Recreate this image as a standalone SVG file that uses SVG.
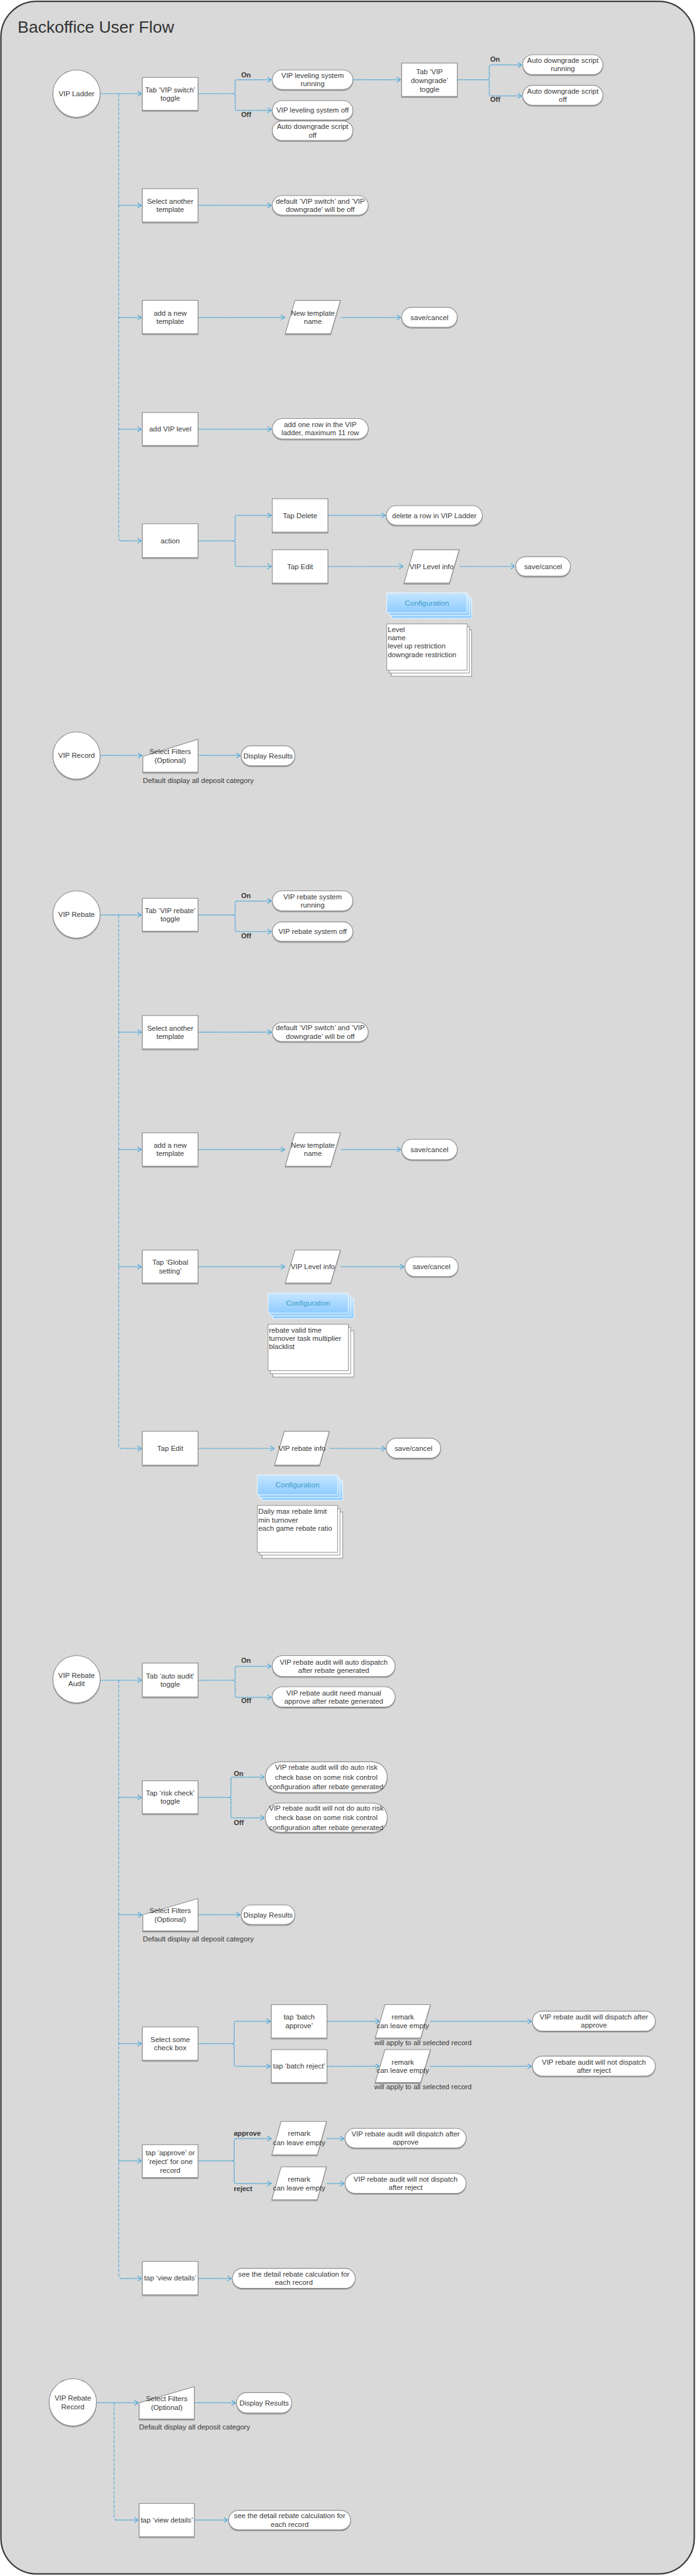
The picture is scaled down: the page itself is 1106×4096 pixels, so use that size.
<svg xmlns="http://www.w3.org/2000/svg" width="1106" height="4096" viewBox="0 0 1106 4096">
<style>
.bg{fill:#d9d9d9;stroke:#3a3a3a;stroke-width:3}
.box{fill:#fff;stroke:#8c8c8c;stroke-width:1.5;filter:url(#sh)}
.cfg{fill:url(#bl);stroke:#eaf6ff;stroke-width:1.5}
.doc{fill:#fff;stroke:#8c8c8c;stroke-width:1.3}
text{font-family:"Liberation Sans",Arial,Helvetica,sans-serif;font-size:15.5px;fill:#383838}
.c{text-anchor:middle}
.b{font-weight:bold;font-size:15px}
.ct{fill:#3a9cc8;font-size:16px;text-anchor:middle}
.ttl{font-size:36px;fill:#333}
.cn{fill:none;stroke:#3ea3d8;stroke-width:2;stroke-dasharray:3 1.5;marker-end:url(#ah)}
.tr{fill:none;stroke:#3ea3d8;stroke-width:1.3;stroke-dasharray:7 3}
</style>
<defs>
<filter id="sh" x="-10%" y="-10%" width="120%" height="130%"><feDropShadow dx="0" dy="2" stdDeviation="1" flood-color="#000" flood-opacity="0.35"/></filter>
<linearGradient id="bl" x1="0" y1="0" x2="0" y2="1"><stop offset="0" stop-color="#c6e6ff"/><stop offset="1" stop-color="#8ecbff"/></linearGradient>
<marker id="ah" viewBox="0 0 10 14" markerWidth="10" markerHeight="14" refX="9.5" refY="7" orient="auto" markerUnits="userSpaceOnUse"><path d="M1,1.5 L9.5,7 L1,12.5" fill="none" stroke="#3ea3d8" stroke-width="1.5"/></marker>
</defs>
<g transform="scale(0.737)">
<rect class="bg" x="2" y="3" width="1495" height="5550" rx="77"/>
<text class="ttl" x="38" y="70">Backoffice User Flow</text>

<g id="connectors">
<!-- VIP Ladder -->
<path class="cn" d="M215,202 H305"/>
<path class="tr" d="M256,202 V1162 Q256,1167 261,1167"/>
<path class="cn" d="M256,443 H305"/>
<path class="cn" d="M256,685 H305"/>
<path class="cn" d="M256,926 H305"/>
<path class="cn" d="M260,1167 H305"/>
<path class="cn" d="M427,202 H503 Q507,202 507,198 V176 Q507,172 511,172 H585"/>
<path class="cn" d="M503,202 Q507,202 507,206 V234 Q507,238 511,238 H585"/>
<path class="cn" d="M761,172 H864"/>
<path class="cn" d="M986,172 H1051 Q1055,172 1055,168 V144 Q1055,140 1059,140 H1125"/>
<path class="cn" d="M1051,172 Q1055,172 1055,176 V203 Q1055,207 1059,207 H1125"/>
<path class="cn" d="M427,443 H585"/>
<path class="cn" d="M427,685 H614"/>
<path class="cn" d="M736,685 H864"/>
<path class="cn" d="M427,926 H585"/>
<path class="cn" d="M427,1167 H503 Q507,1167 507,1163 V1116 Q507,1112 511,1112 H585"/>
<path class="cn" d="M503,1167 Q507,1167 507,1171 V1218 Q507,1222 511,1222 H585"/>
<path class="cn" d="M707,1112 H831"/>
<path class="cn" d="M707,1222 H869"/>
<path class="cn" d="M992,1222 H1110"/>
<!-- VIP Record -->
<path class="cn" d="M215,1630 H306"/>
<path class="cn" d="M427,1630 H518"/>
<!-- VIP Rebate -->
<path class="cn" d="M215,1974 H305"/>
<path class="tr" d="M256,1974 V3120 Q256,3125 261,3125"/>
<path class="cn" d="M256,2227 H305"/>
<path class="cn" d="M256,2480 H305"/>
<path class="cn" d="M256,2733 H305"/>
<path class="cn" d="M260,3125 H305"/>
<path class="cn" d="M427,1974 H503 Q507,1974 507,1970 V1948 Q507,1944 511,1944 H585"/>
<path class="cn" d="M503,1974 Q507,1974 507,1978 V2006 Q507,2010 511,2010 H585"/>
<path class="cn" d="M427,2227 H585"/>
<path class="cn" d="M427,2480 H614"/>
<path class="cn" d="M736,2480 H864"/>
<path class="cn" d="M427,2733 H614"/>
<path class="cn" d="M736,2733 H871"/>
<path class="cn" d="M427,3125 H591"/>
<path class="cn" d="M711,3125 H831"/>
<!-- VIP Rebate Audit -->
<path class="cn" d="M215,3625 H305"/>
<path class="tr" d="M256,3625 V4911 Q256,4916 261,4916"/>
<path class="cn" d="M256,3878 H305"/>
<path class="cn" d="M256,4131 H306"/>
<path class="cn" d="M256,4409 H305"/>
<path class="cn" d="M256,4662 H305"/>
<path class="cn" d="M260,4916 H305"/>
<path class="cn" d="M427,3625 H503 Q507,3625 507,3621 V3599 Q507,3595 511,3595 H585"/>
<path class="cn" d="M503,3625 Q507,3625 507,3629 V3658 Q507,3662 511,3662 H585"/>
<path class="cn" d="M427,3878 H494 Q498,3878 498,3874 V3838 Q498,3834 502,3834 H570"/>
<path class="cn" d="M494,3878 Q498,3878 498,3882 V3918 Q498,3922 502,3922 H570"/>
<path class="cn" d="M427,4131 H518"/>
<path class="cn" d="M427,4409 H501 Q505,4409 505,4405 V4365 Q505,4361 509,4361 H583"/>
<path class="cn" d="M501,4409 Q505,4409 505,4413 V4454 Q505,4458 509,4458 H583"/>
<path class="cn" d="M705,4361 H818"/>
<path class="cn" d="M928,4361 H1146"/>
<path class="cn" d="M705,4458 H818"/>
<path class="cn" d="M928,4458 H1146"/>
<path class="cn" d="M427,4662 H501 Q505,4662 505,4658 V4618 Q505,4614 509,4614 H585"/>
<path class="cn" d="M501,4662 Q505,4662 505,4666 V4707 Q505,4711 509,4711 H585"/>
<path class="cn" d="M705,4614 H742"/>
<path class="cn" d="M705,4711 H742"/>
<path class="cn" d="M427,4916 H499"/>
<!-- VIP Rebate Record -->
<path class="cn" d="M208,5184 H298"/>
<path class="tr" d="M246,5184 V5432 Q246,5437 251,5437"/>
<path class="cn" d="M250,5437 H298"/>
<path class="cn" d="M419,5184 H508"/>
<path class="cn" d="M419,5437 H491"/>
</g>

<!-- labels -->
<g id="labels">
<text class="b" x="520" y="167">On</text>
<text class="b" x="520" y="253">Off</text>
<text class="b" x="1057" y="133">On</text>
<text class="b" x="1057" y="220">Off</text>
<text class="b" x="520" y="1938">On</text>
<text class="b" x="520" y="2025">Off</text>
<text class="b" x="520" y="3588">On</text>
<text class="b" x="520" y="3675">Off</text>
<text class="b" x="504" y="3832">On</text>
<text class="b" x="504" y="3938">Off</text>
<text class="b" x="504" y="4608">approve</text>
<text class="b" x="504" y="4727">reject</text>
<text x="308" y="1689">Default display all deposit category</text>
<text x="308" y="4189">Default display all deposit category</text>
<text x="300" y="5242">Default display all deposit category</text>
<text x="807" y="4412">will apply to all selected record</text>
<text x="807" y="4508">will apply to all selected record</text>
</g>

<!-- ===== VIP Ladder ===== -->
<g id="vip-ladder"><ellipse class="box" cx="165" cy="202" rx="51" ry="51"/><text class="c" x="165" y="207.5">VIP Ladder</text></g>
<g id="tab-vip-switch"><rect class="box" x="307" y="167" width="120" height="71"/><text class="c" x="367" y="199">Tab ‘VIP switch’</text><text class="c" x="367" y="217">toggle</text></g>
<g id="leveling-running"><rect class="box" x="587" y="151" width="174" height="42" rx="21"/><text class="c" x="674" y="168.5">VIP leveling system</text><text class="c" x="674" y="186.5">running</text></g>
<g id="leveling-off"><rect class="box" x="587" y="217" width="174" height="42" rx="21"/><text class="c" x="674" y="243.5">VIP leveling system off</text></g>
<g id="auto-downgrade-off-1"><rect class="box" x="587" y="261" width="174" height="42" rx="21"/><text class="c" x="674" y="278.5">Auto downgrade script</text><text class="c" x="674" y="296.5">off</text></g>
<g id="tab-vip-downgrade"><rect class="box" x="866" y="136" width="120" height="72"/><text class="c" x="926" y="160.5">Tab ‘VIP</text><text class="c" x="926" y="178.5">downgrade’</text><text class="c" x="926" y="197.5">toggle</text></g>
<g id="auto-downgrade-running"><rect class="box" x="1127" y="118" width="173" height="43" rx="21.5"/><text class="c" x="1213.5" y="136">Auto downgrade script</text><text class="c" x="1213.5" y="154">running</text></g>
<g id="auto-downgrade-off-2"><rect class="box" x="1127" y="184" width="173" height="43" rx="21.5"/><text class="c" x="1213.5" y="202">Auto downgrade script</text><text class="c" x="1213.5" y="220">off</text></g>
<g id="select-template-1"><rect class="box" x="307" y="407" width="120" height="72"/><text class="c" x="367" y="439.5">Select another</text><text class="c" x="367" y="457.5">template</text></g>
<g id="default-off-1"><rect class="box" x="587" y="422" width="207" height="42" rx="21"/><text class="c" x="690.5" y="439.5">default ‘VIP switch’ and ‘VIP</text><text class="c" x="690.5" y="457.5">downgrade’ will be off</text></g>
<g id="add-template-1"><rect class="box" x="307" y="648" width="120" height="72"/><text class="c" x="367" y="680.5">add a new</text><text class="c" x="367" y="698.5">template</text></g>
<g id="template-name-1"><polygon class="box" points="636,648 734,648 713,720 615,720"/><text class="c" x="674.5" y="680.5">New template</text><text class="c" x="674.5" y="698.5">name</text></g>
<g id="save-1"><rect class="box" x="866" y="663" width="120" height="43" rx="21.5"/><text class="c" x="926" y="690">save/cancel</text></g>
<g id="add-vip-level"><rect class="box" x="307" y="890" width="120" height="71"/><text class="c" x="367" y="931">add VIP level</text></g>
<g id="add-row"><rect class="box" x="587" y="903" width="207" height="44" rx="22"/><text class="c" x="690.5" y="921.5">add one row in the VIP</text><text class="c" x="690.5" y="939.5">ladder, maximum 11 row</text></g>
<g id="action"><rect class="box" x="307" y="1130" width="120" height="73"/><text class="c" x="367" y="1172">action</text></g>
<g id="tap-delete"><rect class="box" x="587" y="1076" width="120" height="72"/><text class="c" x="647" y="1117.5">Tap Delete</text></g>
<g id="delete-row"><rect class="box" x="833" y="1091" width="207" height="42" rx="21"/><text class="c" x="936.5" y="1117.5">delete a row in VIP Ladder</text></g>
<g id="tap-edit-1"><rect class="box" x="587" y="1186" width="120" height="72"/><text class="c" x="647" y="1227.5">Tap Edit</text></g>
<g id="vip-level-info-1"><polygon class="box" points="892,1186 990,1186 969,1258 871,1258"/><text class="c" x="930.5" y="1227.5">VIP Level info</text></g>
<g id="save-2"><rect class="box" x="1112" y="1201" width="118" height="42" rx="21"/><text class="c" x="1171" y="1227.5">save/cancel</text></g>
<g id="config-1"><rect class="cfg" x="844" y="1291" width="173" height="43"/><rect class="cfg" x="839" y="1285" width="173" height="43"/><rect class="cfg" x="834" y="1279" width="173" height="43"/><text class="ct" x="920.5" y="1306">Configuration</text></g>
<g id="config-doc-1"><rect class="doc" x="844" y="1359" width="173" height="100"/><rect class="doc" x="839" y="1352" width="173" height="100"/><rect class="doc" x="834" y="1346" width="173" height="100"/><text x="836" y="1363.5">Level</text><text x="836" y="1381.5">name</text><text x="836" y="1399.5">level up restriction</text><text x="836" y="1417.5">downgrade restriction</text></g>

<!-- ===== VIP Record ===== -->
<g id="vip-record"><ellipse class="box" cx="165" cy="1630" rx="51" ry="51"/><text class="c" x="165" y="1635.5">VIP Record</text></g>
<g id="filters-1"><polygon class="box" points="308,1632 427,1595 427,1666 308,1666"/><text class="c" x="367" y="1627.5">Select Filters</text><text class="c" x="367" y="1645.5">(Optional)</text></g>
<g id="results-1"><rect class="box" x="520" y="1609" width="116" height="43" rx="21.5"/><text class="c" x="578" y="1636">Display Results</text></g>

<!-- ===== VIP Rebate ===== -->
<g id="vip-rebate"><ellipse class="box" cx="165" cy="1973" rx="51" ry="51"/><text class="c" x="165" y="1978.5">VIP Rebate</text></g>
<g id="tab-vip-rebate"><rect class="box" x="307" y="1938" width="120" height="71"/><text class="c" x="367" y="1970">Tab ‘VIP rebate’</text><text class="c" x="367" y="1988">toggle</text></g>
<g id="rebate-running"><rect class="box" x="587" y="1922" width="174" height="43" rx="21.5"/><text class="c" x="674" y="1940">VIP rebate system</text><text class="c" x="674" y="1958">running</text></g>
<g id="rebate-off"><rect class="box" x="587" y="1989" width="174" height="42" rx="21"/><text class="c" x="674" y="2015.5">VIP rebate system off</text></g>
<g id="select-template-2"><rect class="box" x="307" y="2191" width="120" height="72"/><text class="c" x="367" y="2223.5">Select another</text><text class="c" x="367" y="2241.5">template</text></g>
<g id="default-off-2"><rect class="box" x="587" y="2206" width="207" height="41" rx="20.5"/><text class="c" x="690.5" y="2223">default ‘VIP switch’ and ‘VIP</text><text class="c" x="690.5" y="2241">downgrade’ will be off</text></g>
<g id="add-template-2"><rect class="box" x="307" y="2444" width="120" height="72"/><text class="c" x="367" y="2476.5">add a new</text><text class="c" x="367" y="2494.5">template</text></g>
<g id="template-name-2"><polygon class="box" points="636,2444 734,2444 713,2516 615,2516"/><text class="c" x="674.5" y="2476.5">New template</text><text class="c" x="674.5" y="2494.5">name</text></g>
<g id="save-3"><rect class="box" x="866" y="2458" width="120" height="44" rx="22"/><text class="c" x="926" y="2485.5">save/cancel</text></g>
<g id="global-setting"><rect class="box" x="307" y="2697" width="120" height="71"/><text class="c" x="367" y="2729">Tap ‘Global</text><text class="c" x="367" y="2747">setting’</text></g>
<g id="vip-level-info-2"><polygon class="box" points="636,2697 734,2697 713,2768 615,2768"/><text class="c" x="674.5" y="2738">VIP Level info</text></g>
<g id="save-4"><rect class="box" x="873" y="2712" width="115" height="42" rx="21"/><text class="c" x="930.5" y="2738.5">save/cancel</text></g>
<g id="config-2"><rect class="cfg" x="588" y="2802" width="175" height="43"/><rect class="cfg" x="583" y="2796" width="173" height="43"/><rect class="cfg" x="578" y="2790" width="173" height="43"/><text class="ct" x="664.5" y="2817">Configuration</text></g>
<g id="config-doc-2"><rect class="doc" x="588" y="2871" width="175" height="100"/><rect class="doc" x="583" y="2864" width="173" height="100"/><rect class="doc" x="578" y="2857" width="173" height="100"/><text x="580" y="2874.5">rebate valid time</text><text x="580" y="2892.5">turnover task multiplier</text><text x="580" y="2910.5">blacklist</text></g>
<g id="tap-edit-2"><rect class="box" x="307" y="3088" width="120" height="73"/><text class="c" x="367" y="3130">Tap Edit</text></g>
<g id="vip-rebate-info"><polygon class="box" points="613,3088 710,3088 689,3161 592,3161"/><text class="c" x="651" y="3130">VIP rebate info</text></g>
<g id="save-5"><rect class="box" x="833" y="3103" width="117" height="43" rx="21.5"/><text class="c" x="891.5" y="3130">save/cancel</text></g>
<g id="config-3"><rect class="cfg" x="565" y="3194" width="174" height="43"/><rect class="cfg" x="560" y="3188" width="173" height="43"/><rect class="cfg" x="555" y="3182" width="173" height="43"/><text class="ct" x="641.5" y="3209">Configuration</text></g>
<g id="config-doc-3"><rect class="doc" x="565" y="3262" width="174" height="100"/><rect class="doc" x="560" y="3255" width="173" height="100"/><rect class="doc" x="555" y="3248" width="173" height="101"/><text x="557" y="3266.5">Daily max rebate limit</text><text x="557" y="3284.5">min turnover</text><text x="557" y="3302.5">each game rebate ratio</text></g>

<!-- ===== VIP Rebate Audit ===== -->
<g id="vip-rebate-audit"><ellipse class="box" cx="165" cy="3623" rx="51" ry="51"/><text class="c" x="165" y="3619.5">VIP Rebate</text><text class="c" x="165" y="3637.5">Audit</text></g>
<g id="tab-auto-audit"><rect class="box" x="307" y="3588" width="120" height="73"/><text class="c" x="367" y="3621">Tab ‘auto audit’</text><text class="c" x="367" y="3639">toggle</text></g>
<g id="auto-dispatch"><rect class="box" x="587" y="3572" width="265" height="45" rx="22.5"/><text class="c" x="719.5" y="3591">VIP rebate audit will auto dispatch</text><text class="c" x="719.5" y="3609">after rebate generated</text></g>
<g id="manual-approve"><rect class="box" x="587" y="3639" width="265" height="44" rx="22"/><text class="c" x="719.5" y="3657.5">VIP rebate audit need manual</text><text class="c" x="719.5" y="3675.5">approve after rebate generated</text></g>
<g id="tap-risk-check"><rect class="box" x="307" y="3842" width="120" height="71"/><text class="c" x="367" y="3874">Tap ‘risk check’</text><text class="c" x="367" y="3892">toggle</text></g>
<g id="risk-on"><rect class="box" x="572" y="3801" width="263" height="66" rx="33"/><text class="c" x="703.5" y="3818.5">VIP rebate audit will do auto risk</text><text class="c" x="703.5" y="3839.5">check base on some risk control</text><text class="c" x="703.5" y="3860.5">configuration after rebate generated</text></g>
<g id="risk-off"><rect class="box" x="572" y="3890" width="263" height="63" rx="31.5"/><text class="c" x="703.5" y="3906">VIP rebate audit will not do auto risk</text><text class="c" x="703.5" y="3927">check base on some risk control</text><text class="c" x="703.5" y="3948">configuration after rebate generated</text></g>
<g id="filters-2"><polygon class="box" points="308,4131 427,4096 427,4166 308,4166"/><text class="c" x="367" y="4128">Select Filters</text><text class="c" x="367" y="4146">(Optional)</text></g>
<g id="results-2"><rect class="box" x="520" y="4110" width="116" height="42" rx="21"/><text class="c" x="578" y="4136.5">Display Results</text></g>
<g id="select-check-box"><rect class="box" x="307" y="4373" width="120" height="72"/><text class="c" x="367" y="4405.5">Select some</text><text class="c" x="367" y="4423.5">check box</text></g>
<g id="batch-approve"><rect class="box" x="585" y="4325" width="120" height="72"/><text class="c" x="645" y="4357.5">tap ‘batch</text><text class="c" x="645" y="4375.5">approve’</text></g>
<g id="remark-1"><polygon class="box" points="830,4325 928,4325 907,4397 809,4397"/><text class="c" x="868.5" y="4357.5">remark</text><text class="c" x="868.5" y="4376.5">can leave empty</text></g>
<g id="dispatch-after-approve-1"><rect class="box" x="1148" y="4339" width="265" height="43" rx="21.5"/><text class="c" x="1280.5" y="4357">VIP rebate audit will dispatch after</text><text class="c" x="1280.5" y="4375">approve</text></g>
<g id="batch-reject"><rect class="box" x="585" y="4422" width="120" height="71"/><text class="c" x="645" y="4463">tap ‘batch reject’</text></g>
<g id="remark-2"><polygon class="box" points="830,4422 928,4422 907,4493 809,4493"/><text class="c" x="868.5" y="4454">remark</text><text class="c" x="868.5" y="4472">can leave empty</text></g>
<g id="not-dispatch-1"><rect class="box" x="1148" y="4436" width="265" height="43" rx="21.5"/><text class="c" x="1280.5" y="4454">VIP rebate audit will not dispatch</text><text class="c" x="1280.5" y="4472">after reject</text></g>
<g id="approve-reject-one"><rect class="box" x="307" y="4627" width="120" height="71"/><text class="c" x="367" y="4650.5">tap ‘approve’ or</text><text class="c" x="367" y="4668.5">‘reject’ for one</text><text class="c" x="367" y="4687.5">record</text></g>
<g id="remark-3"><polygon class="box" points="606,4577 704,4577 684,4649 586,4649"/><text class="c" x="645" y="4608.5">remark</text><text class="c" x="645" y="4628.5">can leave empty</text></g>
<g id="dispatch-after-approve-2"><rect class="box" x="744" y="4592" width="261" height="42" rx="21"/><text class="c" x="874.5" y="4609.5">VIP rebate audit will dispatch after</text><text class="c" x="874.5" y="4627.5">approve</text></g>
<g id="remark-4"><polygon class="box" points="606,4675 704,4675 684,4746 586,4746"/><text class="c" x="645" y="4707.5">remark</text><text class="c" x="645" y="4725.5">can leave empty</text></g>
<g id="not-dispatch-2"><rect class="box" x="744" y="4689" width="261" height="43" rx="21.5"/><text class="c" x="874.5" y="4707">VIP rebate audit will not dispatch</text><text class="c" x="874.5" y="4725">after reject</text></g>
<g id="view-details-1"><rect class="box" x="307" y="4879" width="120" height="72"/><text class="c" x="367" y="4920.5">tap ‘view details’</text></g>
<g id="detail-calc-1"><rect class="box" x="501" y="4894" width="265" height="43" rx="21.5"/><text class="c" x="633.5" y="4912">see the detail rebate calculation for</text><text class="c" x="633.5" y="4930">each record</text></g>

<!-- ===== VIP Rebate Record ===== -->
<g id="vip-rebate-record"><ellipse class="box" cx="157" cy="5183" rx="51" ry="51"/><text class="c" x="157" y="5179.5">VIP Rebate</text><text class="c" x="157" y="5197.5">Record</text></g>
<g id="filters-3"><polygon class="box" points="300,5184 419,5149 419,5219 300,5219"/><text class="c" x="359.5" y="5181">Select Filters</text><text class="c" x="359.5" y="5199">(Optional)</text></g>
<g id="results-3"><rect class="box" x="510" y="5162" width="119" height="44" rx="22"/><text class="c" x="569.5" y="5189.5">Display Results</text></g>
<g id="view-details-2"><rect class="box" x="300" y="5401" width="119" height="72"/><text class="c" x="359.5" y="5442.5">tap ‘view details’</text></g>
<g id="detail-calc-2"><rect class="box" x="493" y="5416" width="263" height="42" rx="21"/><text class="c" x="624.5" y="5433.5">see the detail rebate calculation for</text><text class="c" x="624.5" y="5451.5">each record</text></g>
</g>
</svg>
